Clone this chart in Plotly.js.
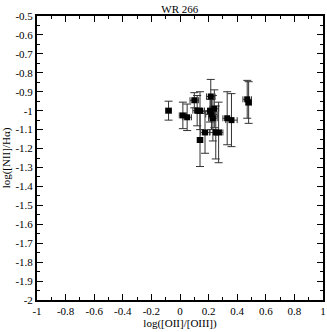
<!DOCTYPE html>
<html>
<head>
<meta charset="utf-8">
<script src="https://cdn.plot.ly/plotly-3.0.1.min.js"></script>
<style>html,body{margin:0;padding:0;background:#fff;}#chart{width:327px;height:332px;}</style>
</head>
<body>
<div id="chart"></div>
<script>
// log([OII]/[OIII])
const xValues = [-0.08, 0.02, 0.05, 0.10, 0.12, 0.14, 0.14, 0.175, 0.215, 0.21, 0.22, 0.23, 0.24, 0.25, 0.27, 0.33, 0.36, 0.47, 0.48];
// log([NII]/Halpha)
const yValues = [-1.00, -1.025, -1.035, -0.945, -1.00, -1.00, -1.155, -1.115, -0.925, -1.00, -1.02, -1.04, -0.99, -1.115, -1.115, -1.04, -1.05, -0.94, -0.957];
const xErrors = [0.02, 0.025, 0.03, 0.03, 0.03, 0.03, 0.02, 0.03, 0.03, 0.04, 0.04, 0.03, 0.03, 0.04, 0.03, 0.03, 0.04, 0.03, 0.02];
const yErrors = [0.05, 0.07, 0.07, 0.04, 0.08, 0.10, 0.14, 0.11, 0.09, 0.06, 0.08, 0.12, 0.10, 0.14, 0.16, 0.14, 0.14, 0.10, 0.11];
const xTickVals = [-1, -0.8, -0.6, -0.4, -0.2, 0, 0.2, 0.4, 0.6, 0.8, 1];
const xTickText = ["-1", "-0.8", "-0.6", "-0.4", "-0.2", "0", "0.2", "0.4", "0.6", "0.8", "1"];
const yTickVals = [-2, -1.9, -1.8, -1.7, -1.6, -1.5, -1.4, -1.3, -1.2, -1.1, -1, -0.9, -0.8, -0.7, -0.6, -0.5];
const yTickText = ["-2", "-1.9", "-1.8", "-1.7", "-1.6", "-1.5", "-1.4", "-1.3", "-1.2", "-1.1", "-1", "-0.9", "-0.8", "-0.7", "-0.6", "-0.5"];

const font = {family: "Liberation Serif, Times New Roman, serif", size: 11, color: "#000"};

const trace = {
  type: "scatter",
  mode: "markers",
  x: xValues,
  y: yValues,
  marker: {symbol: "square", size: 6, color: "#000"},
  error_x: {type: "data", array: xErrors, visible: true, color: "#333", thickness: 1, width: 3},
  error_y: {type: "data", array: yErrors, visible: true, color: "#333", thickness: 1, width: 4},
  hoverinfo: "none"
};

const axisCommon = {
  showgrid: false, zeroline: false, showline: true, linecolor: "#000", linewidth: 2,
  mirror: "ticks", ticks: "inside", ticklen: 6, tickwidth: 1, tickcolor: "#000",
  tickfont: font, tickmode: "array"
};

const layout = {
  width: 327, height: 332,
  margin: {l: 37, r: 4, t: 16, b: 32},
  paper_bgcolor: "#fff", plot_bgcolor: "#fff",
  font: font,
  showlegend: false,
  title: {text: "WR 266", font: {family: font.family, size: 11, color: "#000"}, x: 0.55, xanchor: "center", y: 0.985, yanchor: "top"},
  xaxis: Object.assign({}, axisCommon, {
    range: [-1, 1], tickvals: xTickVals, ticktext: xTickText,
    minor: {tickmode: "linear", tick0: -1, dtick: 0.1, ticks: "inside", ticklen: 3, tickcolor: "#000"},
    title: {text: "log([OII]/[OIII])", font: font, standoff: 2}
  }),
  yaxis: Object.assign({}, axisCommon, {
    range: [-2, -0.5], tickvals: yTickVals, ticktext: yTickText,
    minor: {tickmode: "linear", tick0: -2, dtick: 0.05, ticks: "inside", ticklen: 3, tickcolor: "#000"},
    title: {text: "log([NII]/Hα)", font: font, standoff: 4}
  })
};

Plotly.newPlot("chart", [trace], layout, {displayModeBar: false, staticPlot: true});
</script>
</body>
</html>
